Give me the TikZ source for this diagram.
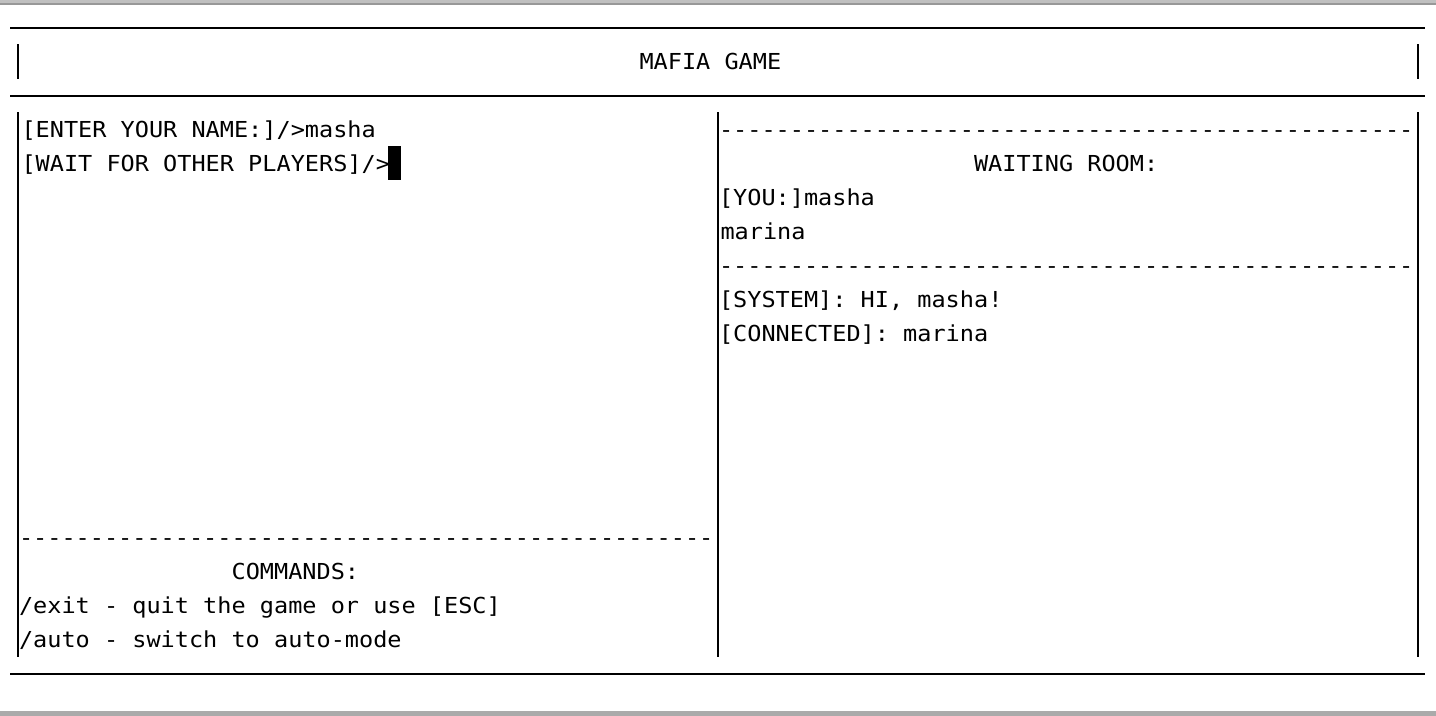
\documentclass[tikz,border=0pt]{standalone}
\usepackage{fontspec}
\newfontfamily\term[FakeStretch=1.07]{DejaVu Sans Mono}
\newcommand\tdash{-\kern0pt}
\newcommand\tdashten{\tdash\tdash\tdash\tdash\tdash\tdash\tdash\tdash\tdash\tdash}
\newcommand\dashrow{\tdashten\tdashten\tdashten\tdashten\tdash\tdash\tdash\tdash\tdash\tdash\tdash\tdash\tdash}
\definecolor{barlight}{HTML}{C0C0C0}
\definecolor{bardark}{HTML}{989898}
\definecolor{barbottom}{HTML}{AAAAAA}
\begin{document}
\begin{tikzpicture}[x=0.5pt,y=-0.5pt,
  txt/.style={anchor=base west,inner sep=0pt,outer sep=0pt,font=\term\fontsize{11pt}{13pt}\selectfont},
  rule/.style={line width=1pt,line cap=butt}]
\useasboundingbox (0,0) rectangle (1436,716);
\fill[white] (0,0) rectangle (1436,716);
% window bars
\fill[barlight] (0,0) rectangle (1436,3.5);
\fill[bardark] (0,3.5) rectangle (1436,5.5);
\fill[barbottom] (0,711) rectangle (1436,716);
% horizontal rules
\draw[rule] (10,28) -- (1425,28);
\draw[rule] (10,96) -- (1425,96);
\draw[rule] (10,674) -- (1425,674);
% title bars
\draw[rule] (18,44.5) -- (18,79);
\draw[rule] (1418,44.5) -- (1418,79);
% panel bars
\draw[rule] (18,112.5) -- (18,657);
\draw[rule] (717.5,112.5) -- (717.5,657);
\draw[rule] (1418,112.5) -- (1418,657);
% title
\node[txt] (title) at (639.5,69.5) {MAFIA GAME};
% left panel
\node[txt] (enter) at (21.5,137.5) {[ENTER YOUR NAME:]/>masha};
\node[txt] (wait) at (21.5,171.5) {[WAIT FOR OTHER PLAYERS]/>};
\fill (387.5,146.5) rectangle (400.5,180.5);
\node[txt] (ldash) at (19,545.5) {\dashrow};
\node[txt] (cmds) at (231.6,579.5) {COMMANDS:};
\node[txt] (exit) at (19,613.5) {/exit - quit the game or use [ESC]};
\node[txt] (auto) at (19,647.5) {/auto - switch to auto-mode};
% right panel
\node[txt] (rdash1) at (719,137.5) {\dashrow};
\node[txt] (wroom) at (974,171.5) {WAITING ROOM:};
\node[txt] (you) at (719,205.5) {[YOU:]masha};
\node[txt] (marina) at (720.5,239.5) {marina};
\node[txt] (rdash2) at (719,273.5) {\dashrow};
\node[txt] (sys) at (719,307.5) {[SYSTEM]: HI, masha!};
\node[txt] (conn) at (719,341.5) {[CONNECTED]: marina};
\end{tikzpicture}
\end{document}
